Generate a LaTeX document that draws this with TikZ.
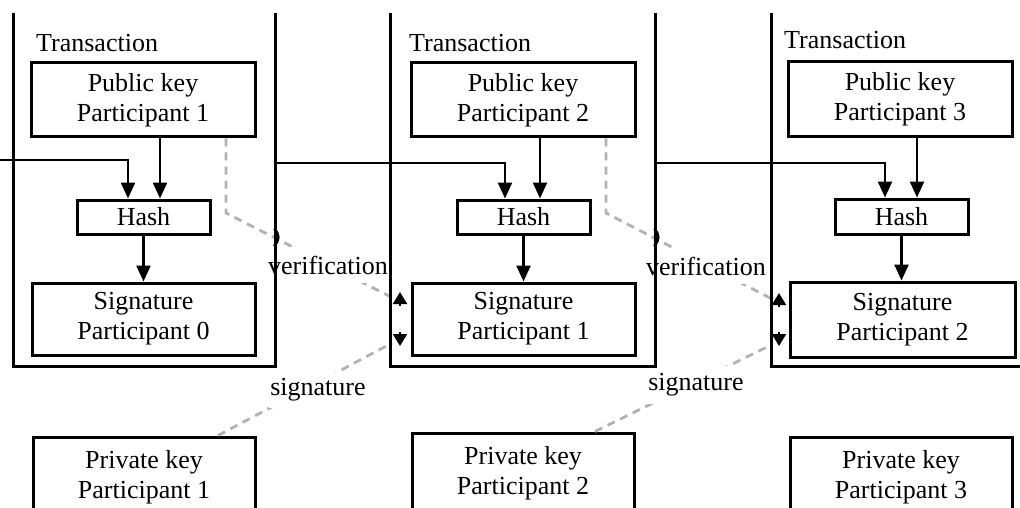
\documentclass[tikz,border=0pt]{standalone}
\usepackage{fontspec}
\setmainfont{Liberation Serif}
\usetikzlibrary{arrows.meta}
\begin{document}
\begin{tikzpicture}[x=1pt,y=-1pt,
  box/.style={draw, line width=3pt, inner sep=0pt, align=center, font=\fontsize{26}{30}\selectfont},
  lbl/.style={inner sep=1pt, font=\fontsize{26}{30}\selectfont},
  frame/.style={line width=3pt},
  conn/.style={line width=2.4pt, -{Triangle[length=16pt,width=14pt]}},
  vdash/.style={line width=2.8pt, draw=black!30, dash pattern=on 8pt off 6pt},
  tipto/.style={line width=2pt, -{Triangle[length=12pt,width=14pt]}},
  jump/.style={line width=2.2pt},
]
\useasboundingbox[fill=white] (0,0) rectangle (1020,508);

% inner boxes
\node[box, minimum width=224pt, minimum height=74pt] (pub1) at (143,100) {Public key\\Participant 1};
\node[box, minimum width=224pt, minimum height=74pt] (pub2) at (523,100) {Public key\\Participant 2};
\node[box, minimum width=224pt, minimum height=75pt] (pub3) at (900,99.5) {Public key\\Participant 3};

\node[box, minimum width=133pt, minimum height=34pt] (hash1) at (143.5,217) {Hash};
\node[box, minimum width=133pt, minimum height=34pt] (hash2) at (523.5,217) {Hash};
\node[box, minimum width=133pt, minimum height=35pt] (hash3) at (901.5,216.5) {Hash};

\node[box, minimum width=223pt, minimum height=72pt] (sig1) at (143.5,319) {Signature\\Participant 0};
\node[box, minimum width=223pt, minimum height=72pt] (sig2) at (523.5,319) {Signature\\Participant 1};
\node[box, minimum width=225pt, minimum height=75pt] (sig3) at (902.5,319.5) {Signature\\Participant 2};

\node[box, minimum width=222pt, minimum height=80pt] (priv1) at (144,477) {Private key\\Participant 1};
\node[box, minimum width=222pt, minimum height=80pt] (priv2) at (523,473) {Private key\\Participant 2};
\node[box, minimum width=222pt, minimum height=80pt] (priv3) at (901,477) {Private key\\Participant 3};

% dashed verification / signature connectors
\coordinate (v1) at (226,213);
\coordinate (v1e) at (393,298);
\coordinate (v2) at (606,213);
\coordinate (v2e) at (772,299);
\coordinate (s1e) at (392,343);
\coordinate (s2e) at (771,345);
\draw[vdash] (pub1.south -| v1) -- (v1) -- (v1e);
\draw[vdash] (pub2.south -| v2) -- (v2) -- (v2e);
\draw[vdash] ([xshift=74pt]priv1.north) -- (s1e);
\draw[vdash] ([xshift=72pt]priv2.north) -- (s2e);

\node[lbl, fill=white, inner ysep=9pt] (ver1) at (328,265) {verification};
\node[lbl, fill=white, inner ysep=9pt] (ver2) at (706,266) {verification};
\node[lbl, fill=white, inner ysep=7pt] (sg1) at (318,390) {signature};
\node[lbl, fill=white, inner ysep=8pt] (sg2) at (696,385) {signature};

% transaction frames
\draw[frame] (13,13) -- (13,366) -- (275,366) -- (275,13);
\draw[frame] (390,13) -- (390,366) -- (655,366) -- (655,13);
\draw[frame] (771,13) -- (771,366) -- (1022,366);
\node[lbl, anchor=west] (tr1) at (35,43) {Transaction};
\node[lbl, anchor=west] (tr2) at (408,43) {Transaction};
\node[lbl, anchor=west] (tr3) at (783,40) {Transaction};

% line jumps
\draw[jump] (274,229) .. controls (280,233) and (280,241) .. (274,246);
\draw[jump] (654,229) .. controls (660,233) and (660,241) .. (654,246);

% arrow tips at signature boxes
\coordinate (a1u) at (400,306);
\coordinate (a1d) at (400,332);
\coordinate (a2u) at (779,307);
\coordinate (a2d) at (779,332);
\draw[tipto] (a1u) -- ++(0,-14);
\draw[tipto] (a1d) -- ++(0,14);
\draw[tipto] (a2u) -- ++(0,-14);
\draw[tipto] (a2d) -- ++(0,14);

% solid connectors
\coordinate (in1) at (0,160);
\coordinate (f1r) at (275,163);
\coordinate (f2r) at (655,163);
\draw[conn] (in1) -| ([xshift=-15.5pt]hash1.north);
\draw[conn] (f1r) -| ([xshift=-18.5pt]hash2.north);
\draw[conn] (f2r) -| ([xshift=-16.5pt]hash3.north);
\draw[conn] ([xshift=17pt]pub1.south) -- ([xshift=17pt]pub1.south |- hash1.north);
\draw[conn] ([xshift=17pt]pub2.south) -- ([xshift=17pt]pub2.south |- hash2.north);
\draw[conn] ([xshift=17pt]pub3.south) -- ([xshift=17pt]pub3.south |- hash3.north);
\draw[conn] (hash1.south) -- (hash1.south |- sig1.north);
\draw[conn] (hash2.south) -- (hash2.south |- sig2.north);
\draw[conn] (hash3.south) -- (hash3.south |- sig3.north);
\end{tikzpicture}
\end{document}
